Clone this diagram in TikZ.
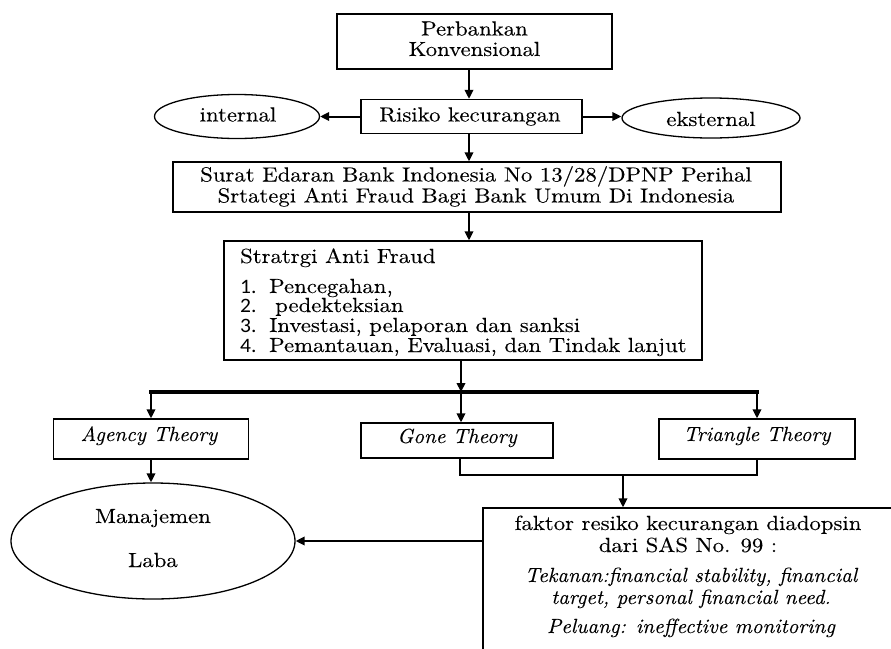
\documentclass[tikz,border=0pt]{standalone}
\usepackage{fontspec}
\setmainfont{lmroman10-regular.otf}[BoldFont=lmroman10-bold.otf,FakeStretch=1.11,FakeBold=0.15]
\newfontfamily\itfont{lmroman10-italic.otf}[FakeStretch=1.02,FakeBold=0.15]
\newfontfamily\numfont{Carlito}[FakeStretch=1.05]
\usetikzlibrary{shapes.geometric,arrows.meta,calc}
\tikzset{
  box/.style={draw,line width=1.3pt,rectangle,inner sep=0pt},
  oval/.style={draw,line width=1.3pt,ellipse,inner sep=0pt},
  arr/.style={line width=2pt,-{Triangle[length=9pt,width=8.5pt]}},
  link/.style={line width=2.6pt},
  bar/.style={line width=3.4pt},
  txt/.style={font=\fontsize{20.5pt}{22pt}\selectfont,inner sep=0pt,anchor=base},
  itx/.style={font=\fontsize{20.5pt}{22pt}\selectfont\itfont,inner sep=0pt,anchor=base},
  ltx/.style={font=\fontsize{20.5pt}{22pt}\selectfont,inner sep=0pt,anchor=base west},
}
\begin{document}
\begin{tikzpicture}[x=1pt,y=-1pt]
\useasboundingbox (0,0) rectangle (891,648);
% helper x positions
\coordinate (cx1) at (469,0);
\coordinate (cx2) at (461,0);
% top box
\node[box,minimum width=275pt,minimum height=55pt] (top) at (474.5,41.5) {};
\node[txt] (topA) at (474.5,35.5) {Perbankan};
\node[txt] (topB) at (474.5,56) {Konvensional};
% risk
\node[box,minimum width=221pt,minimum height=34pt] (risk) at (471.5,116.5) {};
\node[txt] (riskT) at (470,121.5) {Risiko kecurangan};
% ellipses
\node[oval,minimum width=165pt,minimum height=44pt] (int) at (237,116.5) {};
\node[txt] (intT) at (238,121.5) {internal};
\node[oval,minimum width=178pt,minimum height=40pt] (ext) at (711,118) {};
\node[txt] (extT) at (711,126) {eksternal};
% SE box
\node[box,minimum width=608pt,minimum height=50pt] (se) at (477,187) {};
\node[txt] (seA) at (476,181.5) {Surat Edaran Bank Indonesia No 13/28/DPNP Perihal};
\node[txt] (seB) at (476,202.5) {Srtategi Anti Fraud Bagi Bank Umum Di Indonesia};
% strategy box
\node[box,minimum width=478pt,minimum height=119pt] (strat) at (463,300.5) {};
\node[ltx] (st0) at (240,263) {Stratrgi Anti Fraud};
\node[ltx] (st1) at (240,293) {\makebox[29pt][l]{\numfont 1.}Pencegahan,};
\node[ltx] (st2) at (240,312) {\makebox[29pt][l]{\numfont 2.}\hspace{6pt}pedekteksian};
\node[ltx] (st3) at (240,332) {\makebox[29pt][l]{\numfont 3.}Investasi, pelaporan dan sanksi};
\node[ltx] (st4) at (240,352) {\makebox[29pt][l]{\numfont 4.}Pemantauan, Evaluasi, dan Tindak lanjut};
% theory boxes
\node[box,minimum width=195pt,minimum height=40pt] (agency) at (151,439) {};
\node[itx] (agencyT) at (149,441) {Agency Theory};
\node[box,minimum width=192pt,minimum height=35pt] (gone) at (457,440.5) {};
\node[itx] (goneT) at (457,443) {Gone Theory};
\node[box,minimum width=196pt,minimum height=40pt] (tri) at (757,439) {};
\node[itx] (triT) at (757,441) {Triangle Theory};
% Manajemen Laba
\node[oval,minimum width=284pt,minimum height=116pt] (mlaba) at (153,541) {};
\node[txt] (mA) at (153,523) {Manajemen};
\node[txt] (mB) at (153,567) {Laba};
% faktor box (runs off the page)
\node[box,minimum width=430pt,minimum height=160pt] (fbox) at (698,588) {};
\node[txt] (f1) at (688,530) {faktor resiko kecurangan diadopsin};
\node[txt] (f2) at (688,552) {dari SAS No. 99 :};
\node[itx] (f3) at (691,582) {Tekanan:financial stability, financial};
\node[itx] (f4) at (691,604) {target, personal financial need.};
\node[itx] (f5) at (691,633) {Peluang: ineffective monitoring};
% connectors
\draw[arr] (top.south -| cx1) -- (risk.north -| cx1);
\draw[arr] (risk.west) -- (int.east);
\draw[arr] (risk.east) -- (risk.east -| ext.west);
\draw[arr] (risk.south -| cx1) -- (se.north -| cx1);
\draw[arr] (se.south -| cx1) -- (strat.north -| cx1);
\coordinate (bj) at (461,392);
\draw[arr] (strat.south -| cx2) -- (bj);
\coordinate (bl) at (agency.north |- bj);
\coordinate (br) at (tri.north |- bj);
\draw[bar] ([xshift=-1.7pt]bl) -- ([xshift=1.7pt]br);
\draw[arr] (bl) -- (agency.north);
\draw[arr] (bj) -- (gone.north -| bj);
\draw[arr] (br) -- (tri.north);
\draw[arr] (agency.south) -- (mlaba.north -| agency.south);
\coordinate (lj) at (460,475);
\draw[link] (gone.south -| lj) -- (lj) -- (lj -| tri.south) -- (tri.south);
\coordinate (fj) at (623,475);
\draw[arr] (fj) -- (fj |- fbox.north);
\draw[arr] (mlaba.east -| fbox.west) -- (mlaba.east);
\end{tikzpicture}
\end{document}
